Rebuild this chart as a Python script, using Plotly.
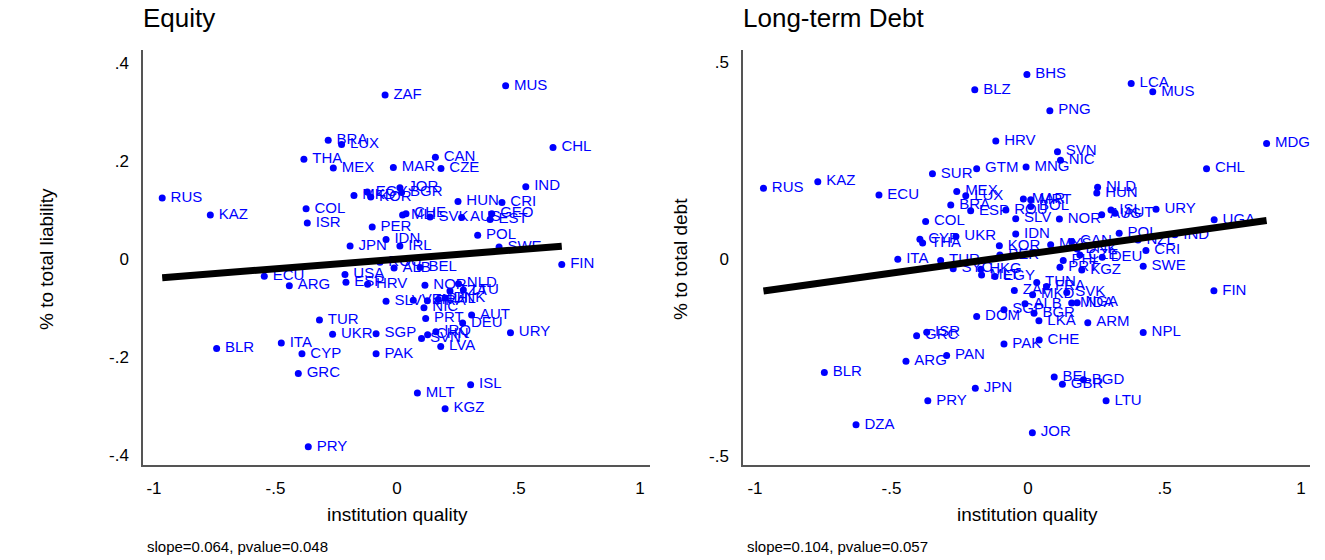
import plotly.graph_objects as go

# ---------------- Equity panel data ----------------
eq_codes = ["RUS","KAZ","BLR","ECU","ARG","ITA","CYP","GRC","PRY","THA","COL","ISR","TUR","BRA","MEX",
            "UKR","LUX","USA","ESP","JPN","MKD","HRV","EGY","KOR","PER","SGP","PAK","ZAF","SLV","IDN",
            "ROU","MAR","ALB","JOR","IRL","BGR","MLI","CHE","VEN","MLT","BEL","SVN","NIC","NOR","PRT",
            "FRA","CHN","SVK","CAN","IRQ","PHL","LVA","CZE","DNK","KGZ","TZA","HUN","NLD","AUS","DEU",
            "LTU","ISL","AUT","POL","EST","GEO","SWE","CRI","MUS","URY","IND","CHL","FIN"]
eq_x = [-0.966,-0.768,-0.742,-0.546,-0.443,-0.476,-0.391,-0.406,-0.365,-0.383,-0.374,-0.369,-0.319,-0.283,-0.262,
        -0.265,-0.228,-0.214,-0.210,-0.193,-0.177,-0.121,-0.122,-0.108,-0.102,-0.086,-0.086,-0.049,-0.045,-0.045,
        -0.070,-0.015,-0.012,0.012,0.012,0.019,0.023,0.037,0.067,0.084,0.095,0.101,0.111,0.115,0.118,
        0.125,0.126,0.136,0.158,0.160,0.170,0.180,0.181,0.198,0.198,0.218,0.251,0.253,0.266,0.270,
        0.273,0.303,0.307,0.332,0.383,0.390,0.420,0.432,0.447,0.467,0.530,0.642,0.678]
eq_y = [0.125,0.090,-0.182,-0.035,-0.054,-0.171,-0.193,-0.233,-0.383,0.204,0.103,0.074,-0.124,0.243,0.186,
        -0.153,0.234,-0.031,-0.047,0.027,0.130,-0.051,0.137,0.127,0.066,-0.152,-0.193,0.335,-0.086,0.040,
        -0.006,0.187,-0.018,0.146,0.027,0.136,0.090,0.093,-0.084,-0.273,-0.017,-0.162,-0.099,-0.053,-0.121,
        -0.085,-0.154,0.086,0.208,-0.148,-0.082,-0.178,0.185,-0.079,-0.305,-0.065,0.118,-0.050,0.085,-0.130,
        -0.063,-0.256,-0.114,0.049,0.081,0.093,0.025,0.116,0.354,-0.150,0.148,0.228,-0.011]
eq_intercept = 0.000
eq_slope_drawn = 0.039
eq_note = "slope=0.064, pvalue=0.048"

# ---------------- Long-term debt panel data ----------------
dt_codes = ["RUS","KAZ","BLR","DZA","ECU","ITA","ARG","GRC","CYP","THA","COL","ISR","PRY","SUR","TUR",
            "PAN","BRA","SYC","UKR","MEX","LUX","ESP","BLZ","JPN","DOM","GTM","HKG","MLT","EGY","HRV",
            "KOR","PER","SGP","PAK","ROU","ZAF","SLV","IDN","MAR","ALB","MNG","BHS","BOL","MRT","JOR",
            "MKD","BGR","TUN","LKA","CHE","FRA","PNG","MYS","BEL","SVN","NOR","PRT","NIC","GBR","PHL",
            "SVK","CAN","MDA","DNK","NGA","CZE","KGZ","BGD","ARM","HUN","NLD","AUS","DEU","LTU","ISL",
            "AUT","POL","LCA","NZL","NPL","SWE","CRI","MUS","URY","IND","CHL","FIN","UGA","MDG"]
dt_x = [-0.969,-0.770,-0.746,-0.630,-0.546,-0.477,-0.447,-0.408,-0.396,-0.386,-0.375,-0.371,-0.367,-0.350,-0.320,
        -0.298,-0.283,-0.274,-0.264,-0.261,-0.228,-0.210,-0.195,-0.193,-0.188,-0.188,-0.173,-0.170,-0.121,-0.118,
        -0.105,-0.103,-0.088,-0.088,-0.081,-0.050,-0.045,-0.045,-0.017,-0.011,-0.007,-0.004,0.010,0.010,0.016,
        0.017,0.022,0.032,0.040,0.041,0.068,0.080,0.083,0.096,0.108,0.115,0.117,0.119,0.126,0.129,
        0.142,0.160,0.160,0.180,0.180,0.190,0.197,0.203,0.219,0.252,0.255,0.270,0.272,0.286,0.304,
        0.319,0.334,0.378,0.403,0.422,0.422,0.432,0.457,0.469,0.538,0.654,0.681,0.682,0.874]
dt_y = [0.179,0.196,-0.288,-0.421,0.162,-0.001,-0.260,-0.195,0.050,0.040,0.095,-0.186,-0.360,0.216,-0.004,
        -0.245,0.137,-0.025,0.057,0.171,0.160,0.122,0.429,-0.328,-0.146,0.229,-0.026,-0.041,-0.045,0.299,
        0.033,0.010,-0.129,-0.216,0.124,-0.080,0.102,0.063,0.152,-0.114,0.233,0.468,0.133,0.150,-0.441,
        -0.091,-0.138,-0.060,-0.157,-0.206,-0.070,0.376,0.036,-0.300,0.272,0.101,-0.021,0.250,-0.318,-0.004,
        -0.085,0.044,-0.112,0.025,-0.111,0.010,-0.028,-0.307,-0.162,0.167,0.182,0.112,0.004,-0.360,0.124,
        0.116,0.065,0.445,0.048,-0.187,-0.019,0.021,0.424,0.126,0.061,0.229,-0.081,0.099,0.293]
dt_intercept = 0.0124
dt_slope_drawn = 0.097
dt_note = "slope=0.104, pvalue=0.057"

x_ticks = [-1, -0.5, 0, 0.5, 1]
x_ticktext = ["-1", "-.5", "0", ".5", "1"]
eq_yticks = [-0.4, -0.2, 0, 0.2, 0.4]
eq_yticktext = ["-.4", "-.2", "0", ".2", ".4"]
dt_yticks = [-0.5, 0, 0.5]
dt_yticktext = ["-.5", "0", ".5"]

FONT = "Liberation Sans, Arial, sans-serif"
W, H = 1325, 560
BLUE = "#0000ff"

fig = go.Figure()

def add_panel(codes, xs, ys, b0, b1, xa, ya):
    fig.add_trace(go.Scatter(
        x=xs, y=ys, mode="markers+text", text=codes, texttemplate="\u2009%{text}",
        textposition="middle right",
        marker=dict(color=BLUE, size=7), textfont=dict(color=BLUE, size=15, family=FONT),
        cliponaxis=False, xaxis=xa, yaxis=ya, showlegend=False, hoverinfo="skip"))
    lx = [min(xs), max(xs)]
    ly = [b0 + b1 * v for v in lx]
    fig.add_trace(go.Scatter(
        x=lx, y=ly, mode="lines", line=dict(color="black", width=7),
        xaxis=xa, yaxis=ya, showlegend=False, hoverinfo="skip"))

add_panel(eq_codes, eq_x, eq_y, eq_intercept, eq_slope_drawn, "x", "y")
add_panel(dt_codes, dt_x, dt_y, dt_intercept, dt_slope_drawn, "x2", "y2")

ydom = [(H - 465) / H, (H - 50) / H]
axis_common = dict(showgrid=False, zeroline=False, showline=True, linecolor="#555555", linewidth=1.5,
                   ticks="outside", tickcolor="rgba(0,0,0,0)",
                   tickfont=dict(size=17, family=FONT, color="black"))

fig.update_layout(
    width=W, height=H, margin=dict(l=0, r=0, t=0, b=0),
    paper_bgcolor="white", plot_bgcolor="white",
    xaxis=dict(domain=[143 / W, 650 / W], range=[-1.045, 1.041], tickvals=x_ticks, ticktext=x_ticktext,
               anchor="y", ticklen=7, **axis_common),
    yaxis=dict(domain=ydom, range=[-0.42, 0.427], tickvals=eq_yticks, ticktext=eq_yticktext,
               anchor="x", ticklen=9, **axis_common),
    xaxis2=dict(domain=[743 / W, 1310 / W], range=[-1.044, 1.033], tickvals=x_ticks, ticktext=x_ticktext,
                anchor="y2", ticklen=7, **axis_common),
    yaxis2=dict(domain=ydom, range=[-0.523, 0.53], tickvals=dt_yticks, ticktext=dt_yticktext,
                anchor="x2", ticklen=9, **axis_common),
)

def ann(text, xpx, ypx, size, xanchor="left", angle=0):
    fig.add_annotation(text=text, x=xpx / W, y=(H - ypx) / H, xref="paper", yref="paper",
                       xanchor=xanchor, yanchor="middle", showarrow=False, textangle=angle,
                       font=dict(size=size, family=FONT, color="black"))

ann("Equity", 141, 18, 26)
ann("Long-term Debt", 741, 18, 26)
ann("% to total liability", 46, 259, 19, xanchor="center", angle=-90)
ann("% to total debt", 680, 259, 19, xanchor="center", angle=-90)
ann("institution quality", 397, 514, 19, xanchor="center")
ann("institution quality", 1027, 514, 19, xanchor="center")
ann(eq_note, 145, 546, 15)
ann(dt_note, 745, 546, 15)

fig.write_html("out.html", config={"displayModeBar": False},
               post_script="document.body.style.margin='0';document.body.style.overflow='hidden';")
